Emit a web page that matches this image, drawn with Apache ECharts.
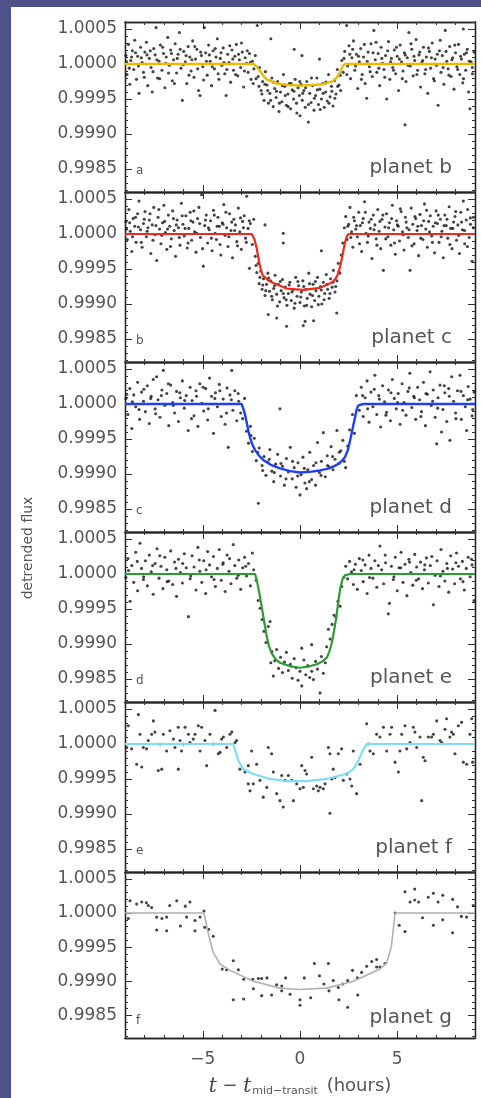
<!DOCTYPE html>
<html>
<head>
<meta charset="utf-8">
<script src="https://cdn.jsdelivr.net/npm/echarts@6/dist/echarts.min.js"></script>
<style>
html,body{margin:0;padding:0;width:481px;height:1098px;overflow:hidden;background:#50508a;}
#paper{position:absolute;left:11px;top:7px;width:470px;height:1091px;background:#fff;}
#chart{position:absolute;left:0;top:0;width:481px;height:1098px;}
</style>
</head>
<body>
<div id="paper"></div>
<div id="chart"></div>
<script>
// ---------- axis ranges and ticks ----------
const xMin = -9, xMax = 9;
const yMin = 0.99817, yMax = 1.0006;
const xMajorTicks = [-5, 0, 5];
const xMinorTicks = [-9,-8,-7,-6,-5,-4,-3,-2,-1,0,1,2,3,4,5,6,7,8,9];
const yMajorTicks = [0.9985, 0.9990, 0.9995, 1.0000, 1.0005];
const yMinorTicks = [0.9982,0.9983,0.9984,0.9985,0.9986,0.9987,0.9988,0.9989,0.9990,0.9991,0.9992,0.9993,0.9994,0.9995,0.9996,0.9997,0.9998,0.9999,1.0000,1.0001,1.0002,1.0003,1.0004,1.0005,1.0006];

const planetNames = ['planet b','planet c','planet d','planet e','planet f','planet g'];
const panelLetters = ['a','b','c','d','e','f'];
const yAxisTitle = 'detrended flux';

// ---------- data: [hours from mid-transit, detrended flux] ----------
const pointsPlanetB = [[-8.95,1.00012],[-8.9,0.99985],[-8.82,1.00028],[-8.75,0.99971],[-8.7,1.00005],[-8.62,1.00019],[-8.55,0.99992],[-8.5,1.00034],[-8.41,0.99978],[-8.35,1.00011],[-8.28,0.99958],[-8.2,1.00024],[-8.12,1.00002],[-8.05,0.99988],[-7.98,1.00017],[-7.9,1.00031],[-7.83,0.99969],[-7.75,1.00008],[-7.66,0.99995],[-7.6,0.9996],[-7.52,1.00022],[-7.45,1.00013],[-7.4,1.00052],[-7.33,0.9998],[-7.25,1.00004],[-7.18,1.00027],[-7.1,0.99991],[-7.02,1.00015],[-6.95,0.99966],[-6.88,1.0001],[-6.8,1.00038],[-6.72,0.99998],[-6.65,1.0002],[-6.57,0.99976],[-6.5,1.00006],[-6.42,1.00029],[-6.35,0.99987],[-6.27,1.00014],[-6.2,1.00045],[-6.12,0.99994],[-6.05,0.99948],[-5.98,1.00018],[-5.9,1.00003],[-5.82,0.99972],[-5.75,1.00025],[-5.67,1.0001],[-5.6,0.9999],[-5.52,1.00033],[-5.45,0.99981],[-5.37,1.00007],[-5.3,1.00021],[-5.22,0.99962],[-5.14,0.99955],[-5.07,1.00012],[-5.0,0.99996],[-4.92,1.00052],[-4.85,1.00016],[-4.77,0.99984],[-4.7,1.00027],[-4.62,1.00004],[-4.55,0.99969],[-4.47,1.00019],[-4.4,0.99993],[-4.32,1.0001],[-4.25,1.00036],[-4.17,0.99978],[-4.1,1.00008],[-4.02,0.99998],[-3.95,1.00023],[-3.87,0.99986],[-3.8,0.99955],[-3.72,1.00014],[-3.65,1.00002],[-3.57,0.99974],[-3.5,1.0002],[-3.42,0.99991],[-3.35,1.00011],[-3.27,1.00028],[-3.2,0.99983],[-3.12,1.00006],[-3.05,0.99995],[-2.97,1.00017],[-2.9,0.99967],[-2.82,1.00009],[-2.75,1.00001],[-2.67,0.99988],[-2.6,1.00015],[-2.52,0.99978],[-2.45,1.00004],[-2.37,0.99993],[-2.3,1.00012],[-2.2,1.00055],[-2.15,0.99982],[-2.08,0.99995],[-2.0,0.99962],[-1.92,0.99975],[-1.85,0.99948],[-1.78,0.99989],[-1.7,0.9997],[-1.62,0.99944],[-1.55,0.99958],[-1.5,1.00036],[-1.45,0.9998],[-1.38,0.99939],[-1.3,0.99965],[-1.23,0.99952],[-1.15,0.99975],[-1.08,0.99932],[-1.0,0.9996],[-0.93,0.99946],[-0.85,0.99985],[-0.78,0.99968],[-0.7,0.99941],[-0.62,0.99957],[-0.55,0.99972],[-0.48,0.99936],[-0.4,0.99963],[-0.33,0.9995],[-0.3,1.00021],[-0.25,0.99978],[-0.18,0.99944],[-0.1,0.99966],[-0.03,0.99955],[0.0,0.99926],[0.05,0.99971],[0.1,1.00012],[0.12,0.99948],[0.2,0.99962],[0.27,0.99938],[0.35,0.99975],[0.43,0.99917],[0.5,0.99958],[0.57,0.99945],[0.65,0.99969],[0.72,0.99934],[0.8,0.99955],[0.87,0.9998],[0.95,0.99942],[1.0,1.00007],[1.02,0.99964],[1.1,0.9995],[1.17,0.99972],[1.25,0.99938],[1.32,0.9996],[1.4,0.99947],[1.47,0.99985],[1.55,0.99953],[1.62,0.99968],[1.7,0.9994],[1.77,0.99976],[1.85,0.99957],[1.92,0.99992],[2.0,0.9997],[2.07,0.99984],[2.15,1.00005],[2.22,0.99988],[2.3,1.00018],[2.4,1.00055],[2.45,0.99997],[2.52,1.00026],[2.6,0.99979],[2.67,1.00009],[2.75,1.00033],[2.82,0.99991],[2.9,1.00014],[2.97,0.99965],[3.05,1.00003],[3.12,1.00022],[3.2,0.99985],[3.27,1.0001],[3.35,0.99972],[3.43,0.99951],[3.5,1.00017],[3.57,0.99996],[3.65,1.00029],[3.72,0.99982],[3.8,1.00048],[3.87,1.00006],[3.95,0.99988],[4.02,1.00015],[4.1,0.99969],[4.17,1.00024],[4.25,1.00001],[4.32,0.99992],[4.4,1.00012],[4.46,0.9995],[4.55,1.00032],[4.62,0.99978],[4.7,1.00008],[4.77,0.99995],[4.85,1.0002],[4.92,0.99986],[5.0,1.00011],[5.07,0.99962],[5.15,1.00027],[5.22,1.00003],[5.3,0.9999],[5.37,1.00016],[5.4,0.99913],[5.45,0.99975],[5.52,1.00009],[5.6,1.00045],[5.67,0.99997],[5.75,1.00021],[5.82,0.99983],[5.9,1.00005],[5.97,1.00035],[6.05,0.99991],[6.12,1.00013],[6.2,0.99967],[6.27,1.00002],[6.35,1.00024],[6.42,0.99986],[6.5,1.0001],[6.57,0.99958],[6.65,1.00018],[6.72,0.99994],[6.8,1.0003],[6.87,0.99979],[6.95,1.00007],[7.02,0.99998],[7.1,0.99941],[7.17,1.00019],[7.25,0.99988],[7.32,1.00012],[7.4,0.99971],[7.47,1.00048],[7.55,1.00004],[7.62,0.99993],[7.7,1.00025],[7.77,0.99982],[7.85,1.00009],[7.92,0.99964],[8.0,1.00016],[8.07,0.99996],[8.15,1.00028],[8.22,0.99985],[8.3,1.00007],[8.37,0.99973],[8.4,1.0005],[8.45,1.00014],[8.52,0.99991],[8.6,1.00021],[8.67,0.9996],[8.74,0.99936],[8.8,1.00003],[8.87,0.99986],[8.95,1.00017],
[-8.92,1.00003],[-8.78,0.99994],[-8.66,1.0001],[-8.46,1.00016],[-8.31,0.99997],[-8.16,1.00009],[-8.01,0.99981],[-7.87,1.00013],[-7.7,1.00019],[-7.56,0.99989],[-7.36,1.00006],[-7.22,0.99979],[-7.06,1.00024],[-6.91,1.00001],[-6.76,0.99987],[-6.61,1.00015],[-6.46,0.99972],[-6.31,1.00008],[-6.16,1.00021],[-6.01,0.99999],[-5.86,1.00012],[-5.71,0.99984],[-5.56,1.00006],[-5.41,1.00025],[-5.26,0.99993],[-5.11,1.00017],[-4.96,0.99977],[-4.81,1.00004],[-4.66,1.00013],[-4.51,0.99996],[-4.36,1.00022],[-4.21,0.99986],[-4.06,1.00016],[-3.91,1.00002],[-3.76,0.99992],[-3.61,1.00026],[-3.46,1.00007],[-3.31,0.99985],[-3.16,1.00014],[-3.01,1.0003],[-2.86,0.9999],[-2.71,1.00019],[-2.56,1.00002],[-2.41,0.99972],[-2.26,0.99979],[-2.11,0.99968],[-1.96,0.99957],[-1.81,0.99971],[-1.66,0.99962],[-1.51,0.99948],[-1.36,0.99974],[-1.21,0.99961],[-1.06,0.99944],[-0.91,0.99969],[-0.76,0.99955],[-0.61,0.99939],[-0.46,0.99972],[-0.31,0.99961],[-0.16,0.9993],[-0.01,0.99975],[0.14,0.99958],[0.29,0.99966],[0.44,0.99942],[0.59,0.9998],[0.74,0.99951],[0.89,0.99963],[1.04,0.99935],[1.19,0.99958],[1.34,0.99974],[1.49,0.99944],[1.64,0.99961],[1.79,0.99951],[1.94,0.99968],[2.09,0.99962],[2.26,1.00008],[2.41,0.99985],[2.56,1.00014],[2.71,1.00021],[2.86,0.99997],[3.01,1.00011],[3.16,0.99978],[3.31,1.00028],[3.46,1.00004],[3.61,0.99989],[3.76,1.00016],[3.91,1.00031],[4.06,0.99994],[4.21,1.00008],[4.36,0.99981],[4.51,1.00019],[4.66,1.00003],[4.81,0.99991],[4.96,1.00024],[5.11,1.00007],[5.26,0.99979],[5.41,1.00013],[5.56,0.99998],[5.71,1.00029],[5.86,1.00011],[6.01,0.99985],[6.16,1.00017],[6.31,1.00005],[6.46,0.99992],[6.61,1.00023],[6.76,1.00009],[6.91,0.99976],[7.06,1.00014],[7.21,1.00034],[7.36,0.99995],[7.51,1.00018],[7.66,0.99984],[7.81,1.00006],[7.96,1.00027],[8.11,0.99992],[8.26,1.00011],[8.41,0.99979],[8.56,1.00016],[8.71,1.00004],[8.86,0.99995]];
const modelPlanetB = [[-9,1],[-2.4,1],[-2.25,0.99997],[-2.06,0.9999],[-1.85,0.99982],[-1.71,0.99978],[-1.2,0.99972],[-0.6,0.9997],[0,0.99969],[0.6,0.9997],[1.2,0.99971],[1.71,0.99976],[1.9,0.99981],[2.06,0.99988],[2.2,0.99997],[2.31,1],[9,1]];

const pointsPlanetC = [[-8.95,1.00018],[-8.88,0.99992],[-8.8,1.00035],[-8.73,1.00004],[-8.65,0.99975],[-8.58,1.00022],[-8.5,1.00011],[-8.43,0.99988],[-8.35,1.00029],[-8.28,1.00047],[-8.2,1.00006],[-8.12,0.99981],[-8.05,1.00015],[-7.97,1.00032],[-7.9,0.99996],[-7.82,1.00009],[-7.75,1.0002],[-7.67,0.99972],[-7.6,1.00013],[-7.52,1.00038],[-7.45,0.99999],[-7.37,0.99962],[-7.3,1.00024],[-7.22,1.00007],[-7.15,0.99986],[-7.07,1.00016],[-7.0,1.00041],[-6.92,1.00002],[-6.85,0.99978],[-6.77,1.00027],[-6.7,1.00011],[-6.62,0.99993],[-6.55,1.00033],[-6.47,1.00005],[-6.4,0.99968],[-6.32,1.0002],[-6.25,1.00009],[-6.17,0.99984],[-6.1,1.00044],[-6.02,1.00014],[-5.95,0.99997],[-5.87,1.00026],[-5.8,0.9998],[-5.72,1.00008],[-5.65,1.00031],[-5.57,0.99991],[-5.5,1.00017],[-5.42,1.00003],[-5.35,0.99974],[-5.27,1.00022],[-5.2,1.00038],[-5.12,0.99995],[-5.06,1.00056],[-4.97,0.99954],[-4.9,1.00012],[-4.82,1.00027],[-4.75,0.99987],[-4.67,1.00006],[-4.6,1.00019],[-4.52,0.99976],[-4.45,1.00034],[-4.37,1.00001],[-4.3,0.99992],[-4.22,1.00024],[-4.15,1.00011],[-4.07,0.9997],[-4.0,1.00016],[-3.92,1.00042],[-3.85,0.99998],[-3.77,1.00009],[-3.7,0.99982],[-3.62,1.00029],[-3.55,1.00005],[-3.47,0.99966],[-3.4,1.00021],[-3.32,1.00013],[-3.25,0.99989],[-3.17,1.00037],[-3.1,1.00003],[-3.02,0.99978],[-2.95,1.00018],[-2.87,1.00026],[-2.8,0.99994],[-2.74,1.00054],[-2.67,1.00008],[-2.6,0.99951],[-2.55,1.00015],[-2.45,0.99985],[-2.38,1.00021],[-2.3,0.99968],[-2.22,0.99945],[-2.15,0.99958],[-2.1,0.99929],[-2.02,0.99947],[-1.95,0.99921],[-1.88,0.99936],[-1.8,1.00013],[-1.8,0.99912],[-1.72,0.99928],[-1.65,0.99944],[-1.63,0.99885],[-1.57,0.99918],[-1.5,0.99933],[-1.42,0.99906],[-1.35,0.99922],[-1.28,0.99941],[-1.2,0.9988],[-1.2,0.99914],[-1.12,0.99928],[-1.05,0.99903],[-0.97,0.99919],[-0.9,0.99935],[-0.86,1.00001],[-0.86,0.99987],[-0.82,0.99909],[-0.75,0.99924],[-0.69,0.99868],[-0.67,0.99898],[-0.6,0.99915],[-0.52,0.99931],[-0.45,0.99905],[-0.37,0.9992],[-0.3,0.99894],[-0.22,0.99938],[-0.15,0.99911],[-0.07,0.99926],[0.0,0.99902],[0.07,0.99917],[0.15,0.99933],[0.17,0.99869],[0.22,0.99897],[0.26,0.99875],[0.3,0.99921],[0.37,0.99908],[0.45,0.99944],[0.52,0.99914],[0.6,0.99896],[0.67,0.99928],[0.7,0.99876],[0.75,0.99905],[0.82,0.99919],[0.9,0.99938],[0.97,0.99911],[1.05,0.99925],[1.1,0.99976],[1.12,0.999],[1.2,0.99931],[1.27,0.99915],[1.35,0.99942],[1.42,0.99921],[1.5,0.99908],[1.57,0.99936],[1.65,0.99924],[1.72,0.99948],[1.8,0.99917],[1.89,0.99887],[1.9,0.99933],[1.97,0.99958],[2.05,0.99944],[2.12,0.9997],[2.2,0.99987],[2.28,1.00009],[2.35,1.00025],[2.42,0.99992],[2.5,1.00014],[2.57,1.00038],[2.65,1.00003],[2.72,0.99981],[2.8,1.00019],[2.87,1.00007],[2.95,0.99996],[3.02,1.00031],[3.1,1.00012],[3.17,0.99975],[3.25,1.00022],[3.32,1.00046],[3.4,1.00001],[3.47,0.99988],[3.55,1.00017],[3.62,1.00008],[3.7,0.99965],[3.77,1.00027],[3.85,1.00013],[3.92,0.99993],[4.0,1.00035],[4.07,1.00004],[4.15,0.99979],[4.22,1.00021],[4.29,0.99948],[4.37,1.0001],[4.45,1.00029],[4.52,0.99996],[4.6,1.00016],[4.67,0.99984],[4.75,1.00041],[4.82,1.00006],[4.9,0.99971],[4.97,1.00019],[5.05,1.00011],[5.12,0.9999],[5.2,1.00032],[5.27,1.00003],[5.35,0.99977],[5.42,1.00024],[5.5,1.00009],[5.57,0.99995],[5.66,0.99948],[5.72,1.00037],[5.8,1.00014],[5.87,0.99986],[5.95,1.00022],[6.02,1.00005],[6.1,0.99969],[6.17,1.00028],[6.25,1.00012],[6.32,0.99992],[6.4,1.00043],[6.47,1.00007],[6.55,0.99981],[6.62,1.00018],[6.7,1.00026],[6.77,0.99997],[6.85,1.00011],[6.92,0.99973],[7.0,1.00033],[7.07,1.00015],[7.15,0.99988],[7.22,1.00021],[7.3,1.00004],[7.37,0.99966],[7.45,1.00027],[7.52,1.00012],[7.6,0.99994],[7.67,1.00039],[7.75,1.00008],[7.82,0.99979],[7.9,1.00017],[7.97,1.00025],[8.05,0.99991],[8.12,1.00013],[8.2,0.99972],[8.27,1.00031],[8.35,1.00006],[8.4,1.00047],[8.47,0.99986],[8.55,1.0002],[8.62,1.00035],[8.7,0.99995],[8.77,1.00014],[8.85,0.99961],[8.92,1.00024],
[-8.92,1.00007],[-8.76,1.00016],[-8.61,0.99996],[-8.46,1.00024],[-8.31,1.0001],[-8.16,0.99988],[-8.01,1.00021],[-7.86,1.00004],[-7.71,1.00029],[-7.56,0.99991],[-7.41,1.00012],[-7.26,1.00035],[-7.11,0.99998],[-6.96,1.00018],[-6.81,1.00007],[-6.66,0.99982],[-6.51,1.00022],[-6.36,1.00013],[-6.21,0.99995],[-6.06,1.00026],[-5.91,1.00008],[-5.76,0.99987],[-5.61,1.00019],[-5.46,1.00033],[-5.31,1.00001],[-5.16,1.00015],[-5.01,0.99979],[-4.86,1.0002],[-4.71,1.00009],[-4.56,0.99994],[-4.41,1.00027],[-4.26,1.00011],[-4.11,0.99985],[-3.96,1.00014],[-3.81,1.00031],[-3.66,0.99996],[-3.51,1.00017],[-3.36,1.00005],[-3.21,0.99983],[-3.06,1.00023],[-2.91,1.00009],[-2.76,0.99988],[-2.61,1.00019],[-2.26,0.99955],[-2.06,0.99938],[-1.91,0.99927],[-1.76,0.99919],[-1.61,0.99937],[-1.46,0.99911],[-1.31,0.99926],[-1.16,0.99897],[-1.01,0.99932],[-0.86,0.99915],[-0.71,0.99906],[-0.56,0.99927],[-0.41,0.99917],[-0.26,0.99901],[-0.11,0.99932],[0.04,0.9991],[0.19,0.99925],[0.34,0.99898],[0.49,0.99929],[0.64,0.99912],[0.79,0.99932],[0.94,0.99899],[1.09,0.9992],[1.24,0.99906],[1.39,0.99928],[1.54,0.99915],[1.69,0.99931],[1.84,0.99925],[2.0,0.99946],[2.46,1.00011],[2.61,0.99995],[2.76,1.00024],[2.91,1.00012],[3.06,0.99986],[3.21,1.00016],[3.36,1.00031],[3.51,0.99997],[3.66,1.00021],[3.81,1.00006],[3.96,0.99984],[4.11,1.00018],[4.26,1.00027],[4.41,0.99993],[4.56,1.00009],[4.71,1.00022],[4.86,0.99987],[5.01,1.00013],[5.16,1.00036],[5.31,0.99999],[5.46,1.00017],[5.61,1.00006],[5.76,0.99983],[5.91,1.00025],[6.06,1.00011],[6.21,0.99994],[6.36,1.00019],[6.51,1.00034],[6.66,1.00003],[6.81,0.99988],[6.96,1.00016],[7.11,1.00027],[7.26,0.99996],[7.41,1.00012],[7.56,1.00021],[7.71,0.99985],[7.86,1.00008],[8.01,1.00032],[8.16,0.99998],[8.31,1.00017],[8.46,1.00005],[8.61,0.99982],[8.76,1.00023],[8.91,1.00009]];
const modelPlanetC = [[-9,1],[-2.49,1],[-2.35,0.99993],[-2.23,0.9998],[-2.14,0.99966],[-2.06,0.99954],[-1.95,0.99943],[-1.89,0.9994],[-1.6,0.99933],[-1.37,0.9993],[-0.69,0.99922],[0.17,0.9992],[1.03,0.99923],[1.45,0.99928],[1.71,0.99932],[1.85,0.99937],[1.97,0.99944],[2.06,0.99953],[2.14,0.99963],[2.23,0.99976],[2.31,0.99987],[2.4,0.99996],[2.49,1],[9,1]];

const pointsPlanetD = [[-8.95,1.00008],[-8.85,0.99985],[-8.75,1.00022],[-8.65,0.99965],[-8.55,1.00013],[-8.45,0.99996],[-8.35,1.00031],[-8.25,0.99978],[-8.15,1.00017],[-8.05,1.00004],[-7.95,0.99989],[-7.85,1.00026],[-7.75,0.99972],[-7.65,1.00011],[-7.55,1.00035],[-7.45,0.99993],[-7.37,1.00039],[-7.3,1.00006],[-7.2,0.99981],[-7.1,1.0002],[-7.03,1.00048],[-6.95,0.99998],[-6.85,1.00015],[-6.75,0.99969],[-6.65,1.00027],[-6.55,1.00002],[-6.45,0.99987],[-6.35,1.00018],[-6.25,0.99975],[-6.15,1.00009],[-6.05,1.00033],[-5.95,0.99994],[-5.85,1.00012],[-5.75,0.99962],[-5.65,1.00024],[-5.55,1.00005],[-5.45,0.99983],[-5.35,1.00019],[-5.25,0.99968],[-5.15,1.00029],[-5.05,1.00001],[-4.95,0.9999],[-4.85,1.00022],[-4.75,0.99977],[-4.65,1.00037],[-4.55,1.00011],[-4.45,0.99958],[-4.35,1.00016],[-4.25,0.99996],[-4.15,1.00028],[-4.05,0.99982],[-3.95,1.00007],[-3.85,0.99971],[-3.75,1.00023],[-3.69,0.99938],[-3.6,1.00013],[-3.51,1.00048],[-3.45,0.99991],[-3.35,1.00019],[-3.25,0.99976],[-3.15,1.00004],[-3.05,0.99987],[-2.95,0.99979],[-2.85,1.00008],[-2.75,0.99961],[-2.65,0.99944],[-2.55,0.99968],[-2.45,0.99932],[-2.35,0.99951],[-2.25,0.99919],[-2.14,0.99858],[-2.1,0.99937],[-1.95,0.99912],[-1.85,0.99925],[-1.75,0.99898],[-1.65,0.99917],[-1.55,0.99935],[-1.45,0.99904],[-1.35,0.99889],[-1.25,0.99914],[-1.15,0.99928],[-1.03,0.99993],[-1.0,0.99897],[-0.9,0.99911],[-0.8,0.99884],[-0.7,0.99922],[-0.6,0.99903],[-0.5,0.99938],[-0.4,0.99893],[-0.3,0.99909],[-0.2,0.99881],[-0.1,0.99916],[0.0,0.9987],[0.05,0.99899],[0.15,0.99924],[0.25,0.99887],[0.34,0.99879],[0.4,0.99906],[0.5,0.99931],[0.6,0.99892],[0.7,0.99912],[0.8,0.99884],[0.9,0.99945],[1.0,0.99902],[1.1,0.99918],[1.2,0.99959],[1.3,0.99896],[1.4,0.99926],[1.5,0.9991],[1.6,0.99939],[1.7,0.99906],[1.8,0.99921],[1.9,0.99962],[2.0,0.99915],[2.1,0.99933],[2.2,0.99948],[2.35,0.99909],[2.45,0.9994],[2.55,0.99963],[2.7,0.99985],[2.8,0.99958],[2.9,1.00012],[3.05,0.99991],[3.15,1.00024],[3.25,0.99982],[3.35,1.00009],[3.45,1.00033],[3.55,0.99974],[3.65,1.00017],[3.75,0.99996],[3.85,1.00041],[3.95,0.99985],[4.05,1.00012],[4.15,0.99967],[4.25,1.00026],[4.35,1.00003],[4.45,0.99988],[4.55,1.0002],[4.65,0.99976],[4.75,1.00035],[4.85,1.00008],[4.95,0.99993],[5.05,1.00015],[5.15,0.99971],[5.25,1.00029],[5.35,1.00002],[5.45,0.99984],[5.55,1.00018],[5.65,1.00044],[5.75,0.99995],[5.85,1.00011],[5.95,0.99978],[6.05,1.00024],[6.15,1.00006],[6.25,0.99989],[6.35,1.00031],[6.45,0.99969],[6.55,1.00014],[6.69,1.00046],[6.75,0.99998],[6.85,1.0002],[6.95,0.99981],[7.03,0.99943],[7.1,1.00009],[7.2,1.00027],[7.28,0.9996],[7.35,0.99992],[7.45,1.00016],[7.55,0.99975],[7.65,1.00022],[7.71,0.99948],[7.8,1.00039],[7.9,1.00004],[8.0,0.99987],[8.1,1.00019],[8.23,1.00041],[8.3,0.99978],[8.4,1.00012],[8.5,0.99996],[8.57,0.99962],[8.65,1.00025],[8.75,1.00007],[8.85,0.99983],[8.95,1.00017],
[-8.91,1.00014],[-8.62,1.00003],[-8.28,0.99992],[-8.03,1.00021],[-7.68,1.00008],[-7.42,0.99986],[-7.13,1.00012],[-6.77,1.00029],[-6.52,0.99998],[-6.18,1.00016],[-5.93,1.00005],[-5.58,0.99979],[-5.32,1.00011],[-4.98,1.00024],[-4.72,0.99993],[-4.38,1.00008],[-4.12,1.00019],[-3.78,0.99987],[-3.53,1.00006],[-3.18,1.00015],[-2.52,0.99955],[-2.18,0.99931],[-1.92,0.99905],[-1.58,0.99921],[-1.32,0.99902],[-0.98,0.99915],[-0.72,0.99893],[-0.38,0.99918],[-0.12,0.99897],[0.22,0.99908],[0.48,0.99889],[0.82,0.99916],[1.08,0.99898],[1.42,0.99912],[1.68,0.99925],[2.02,0.99931],[2.28,0.99918],[3.22,1.00012],[3.48,0.99993],[3.82,1.00021],[4.08,1.00007],[4.42,0.99984],[4.68,1.00016],[5.02,1.00002],[5.28,0.99991],[5.62,1.00023],[5.88,1.00009],[6.22,0.99982],[6.48,1.00015],[6.82,1.00004],[7.08,0.99994],[7.42,1.00026],[7.68,1.00011],[8.02,0.99979],[8.28,1.00018],[8.62,1.00006],[8.88,0.99992]];
const modelPlanetD = [[-9,1],[-3.0,1],[-2.9,0.99992],[-2.82,0.99984],[-2.74,0.99973],[-2.65,0.99961],[-2.57,0.99952],[-2.45,0.99942],[-2.31,0.99934],[-2.1,0.99926],[-1.89,0.9992],[-1.5,0.99913],[-1.03,0.99908],[-0.5,0.99904],[0,0.99902],[0.5,0.99903],[1.03,0.99905],[1.5,0.99908],[1.89,0.99913],[2.1,0.99917],[2.31,0.99924],[2.45,0.99933],[2.57,0.99947],[2.7,0.99964],[2.83,0.99981],[2.92,0.99993],[3.0,0.99998],[3.26,1],[9,1]];

const pointsPlanetE = [[-8.95,0.99995],[-8.85,1.00022],[-8.74,0.99961],[-8.65,1.00012],[-8.55,0.99988],[-8.45,1.00031],[-8.35,0.99976],[-8.23,1.00044],[-8.15,1.00008],[-8.05,0.99992],[-7.95,1.00019],[-7.85,0.99983],[-7.75,1.00027],[-7.65,1.00003],[-7.55,0.99971],[-7.45,1.00015],[-7.35,1.00036],[-7.25,0.99994],[-7.15,1.00011],[-7.05,0.99979],[-6.95,1.00024],[-6.85,1.00006],[-6.75,0.9999],[-6.65,1.00033],[-6.55,0.99985],[-6.45,1.00017],[-6.35,0.99968],[-6.25,1.00021],[-6.15,1.00002],[-6.05,0.99987],[-5.95,1.00029],[-5.85,1.00009],[-5.74,0.99939],[-5.65,0.99993],[-5.55,1.00026],[-5.45,1.0001],[-5.35,0.99977],[-5.25,1.00038],[-5.15,1.00004],[-5.05,0.99988],[-4.95,1.00019],[-4.85,0.99972],[-4.75,1.00032],[-4.65,1.00013],[-4.55,0.99996],[-4.45,1.00025],[-4.35,0.99982],[-4.25,1.00008],[-4.15,1.00035],[-4.05,0.99991],[-3.95,1.00016],[-3.85,0.99975],[-3.75,1.00027],[-3.65,1.00004],[-3.55,0.99986],[-3.43,1.00042],[-3.35,1.00012],[-3.25,0.99994],[-3.15,1.0002],[-3.05,0.99978],[-2.95,1.00009],[-2.85,1.00024],[-2.75,0.99997],[-2.65,1.00015],[-2.55,0.99983],[-2.45,1.0003],[-2.38,1.00006],[-2.25,0.99991],[-2.15,0.99962],[-2.05,0.99951],[-1.95,0.99935],[-1.85,0.99918],[-1.75,0.99902],[-1.63,0.99925],[-1.54,0.99932],[-1.5,0.99873],[-1.45,0.99889],[-1.37,0.99854],[-1.3,0.99876],[-1.2,0.99892],[-1.1,0.99865],[-1.0,0.99881],[-0.9,0.99859],[-0.8,0.99874],[-0.7,0.99888],[-0.6,0.99862],[-0.5,0.99871],[-0.4,0.99851],[-0.3,0.99879],[-0.2,0.99866],[-0.1,0.99848],[0.0,0.99861],[0.09,0.99894],[0.09,0.9984],[0.2,0.99877],[0.3,0.99856],[0.4,0.99869],[0.5,0.99852],[0.6,0.99899],[0.6,0.99861],[0.69,0.99849],[0.8,0.99875],[0.9,0.99864],[1.03,0.9983],[1.1,0.99882],[1.2,0.99858],[1.3,0.99873],[1.37,0.99896],[1.46,0.99921],[1.55,0.99907],[1.65,0.99928],[1.75,0.99941],[1.85,0.99938],[1.95,0.99961],[2.06,0.99954],[2.15,0.99982],[2.25,0.99995],[2.35,1.00011],[2.45,0.99993],[2.55,1.00018],[2.65,1.00003],[2.75,0.99985],[2.85,1.00014],[2.95,0.99978],[3.05,1.00022],[3.15,1.00005],[3.25,0.99989],[3.35,1.00013],[3.45,0.99972],[3.55,1.00027],[3.65,1.00008],[3.75,0.99994],[3.85,1.00019],[3.95,0.99981],[4.11,1.0004],[4.2,1.00006],[4.3,0.99986],[4.4,1.00016],[4.54,0.99943],[4.6,0.99958],[4.7,1.00011],[4.8,0.99992],[4.9,1.00024],[5.0,0.99976],[5.1,1.00009],[5.2,1.00031],[5.3,0.99988],[5.4,1.00014],[5.5,0.99969],[5.6,1.00021],[5.7,1.00002],[5.8,0.99984],[5.9,1.00028],[6.0,1.0001],[6.1,0.99993],[6.2,1.00017],[6.3,0.99979],[6.4,1.00006],[6.5,1.00023],[6.6,0.99987],[6.7,1.00012],[6.86,0.99956],[6.95,0.99998],[7.05,1.00019],[7.15,0.99982],[7.25,1.00035],[7.35,1.00004],[7.45,0.9999],[7.55,1.00015],[7.65,0.99974],[7.75,1.00026],[7.85,1.00007],[7.95,0.99986],[8.05,1.0003],[8.15,1.00011],[8.25,0.99993],[8.35,1.00018],[8.45,0.99977],[8.55,1.00008],[8.65,1.00024],[8.75,0.99996],[8.85,1.00013],[8.95,0.99962],
[-8.82,1.00005],[-8.37,1.00018],[-8.04,0.99996],[-7.58,1.00012],[-7.21,1.00026],[-6.83,0.99989],[-6.38,1.00008],[-6.03,1.00015],[-5.62,0.99997],[-5.18,1.0002],[-4.83,1.00006],[-4.42,0.99992],[-3.97,1.00014],[-3.62,1.00022],[-3.18,0.99998],[-2.79,1.00011],[2.78,1.00006],[3.23,1.0002],[3.58,0.99995],[4.03,1.00012],[4.38,1.00027],[4.83,0.99996],[5.18,1.00009],[5.63,1.00017],[5.98,0.99991],[6.42,1.00013],[6.78,1.00025],[7.22,0.99997],[7.58,1.00008],[8.02,1.00016],[8.38,0.99989],[8.82,1.00021]];
const modelPlanetE = [[-9,1],[-2.31,1],[-2.2,0.99988],[-2.06,0.99968],[-1.97,0.99953],[-1.89,0.9994],[-1.8,0.99925],[-1.71,0.99911],[-1.6,0.99897],[-1.46,0.99887],[-1.25,0.99878],[-1.03,0.99873],[-0.5,0.99868],[0,0.99866],[0.5,0.99868],[0.86,0.99871],[1.15,0.99875],[1.37,0.9988],[1.5,0.99888],[1.63,0.99901],[1.74,0.99917],[1.85,0.99935],[1.95,0.99956],[2.06,0.99978],[2.18,0.99992],[2.31,0.99998],[2.57,1],[9,1]];

const pointsPlanetF = [[-8.91,0.99995],[-8.83,1.00026],[-8.66,0.99993],[-8.4,0.99971],[-8.31,1.00042],[-8.23,1.00014],[-8.14,0.99967],[-8.06,0.99995],[-7.89,0.99993],[-7.8,1.00005],[-7.63,1.00014],[-7.54,1.00033],[-7.46,1.00017],[-7.29,0.99962],[-7.2,1.0],[-7.11,0.99964],[-7.03,1.00014],[-6.86,0.9999],[-6.69,1.00019],[-6.51,1.00007],[-6.43,0.99995],[-6.26,1.00024],[-6.26,0.99964],[-6.17,1.00005],[-6.09,0.9999],[-6.0,1.0],[-5.91,1.00024],[-5.74,1.00014],[-5.66,1.00002],[-5.49,1.00007],[-5.4,1.00014],[-5.23,1.00026],[-5.14,0.9999],[-5.06,1.00024],[-4.89,1.00005],[-4.8,0.99969],[-4.63,1.00014],[-4.46,1.0],[-4.37,1.00048],[-4.2,0.99986],[-4.11,0.99988],[-4.03,1.00007],[-3.94,1.0001],[-3.77,0.99995],[-3.6,1.00014],[-3.51,1.00017],[-3.34,1.00002],[-3.26,1.00005],[-3.09,0.99964],[-2.83,0.9996],[-2.66,0.99969],[-2.49,0.9999],[-2.66,0.99943],[-2.57,0.99933],[-2.4,0.99943],[-2.23,0.99971],[-2.06,0.99948],[-1.89,0.99924],[-1.71,0.99938],[-1.63,0.99995],[-1.46,0.99986],[-1.37,0.9996],[-1.2,0.99929],[-1.03,0.99919],[-0.86,0.9991],[-0.94,0.99955],[-0.77,0.99948],[-0.6,0.99955],[-0.43,0.99948],[-0.34,0.99919],[-0.17,0.99943],[0.0,0.99936],[0.09,0.99969],[0.17,0.99938],[0.26,0.99962],[0.34,0.99957],[0.6,0.99981],[0.69,0.99936],[0.86,0.9994],[0.94,0.99933],[1.03,0.99938],[1.2,0.99936],[1.29,0.99943],[1.46,0.99995],[1.54,0.99901],[1.54,0.99986],[1.63,0.9995],[1.71,0.99964],[1.8,0.99952],[1.97,0.99986],[2.14,0.99993],[2.23,0.99948],[2.4,0.99957],[2.57,0.9995],[2.66,0.9994],[2.91,0.99929],[2.74,0.9999],[3.09,0.99971],[3.43,1.00029],[3.51,1.0],[3.6,0.9999],[3.77,0.99986],[3.94,1.00014],[4.11,1.0001],[4.29,1.00024],[4.46,0.9999],[4.63,1.00014],[4.71,1.00024],[4.89,0.99974],[5.06,0.9996],[5.14,0.9999],[5.23,1.00014],[5.4,1.00026],[5.49,0.99993],[5.66,1.00002],[5.83,1.00024],[5.91,1.00017],[6.0,0.99995],[6.17,1.0001],[6.26,0.99919],[6.34,0.99981],[6.43,0.99976],[6.6,1.0001],[6.77,1.0001],[6.86,1.00014],[7.03,1.00033],[7.2,1.00005],[7.29,1.00002],[7.46,1.00021],[7.54,1.00036],[7.71,1.0001],[7.8,1.00017],[7.89,1.00014],[7.97,0.99986],[8.14,1.00026],[8.31,1.00031],[8.4,0.99974],[8.57,0.99971],[8.74,1.00014],[8.83,1.00036],[8.88,0.99974]];
const modelPlanetF = [[-9,1],[-3.43,1],[-3.3,0.99988],[-3.17,0.99976],[-3.03,0.99969],[-2.9,0.99964],[-2.4,0.99957],[-1.54,0.9995],[-0.69,0.99947],[0.34,0.99947],[1.37,0.9995],[2.23,0.99956],[2.5,0.99959],[2.74,0.99964],[2.88,0.9997],[3.0,0.99976],[3.2,0.99989],[3.43,1],[9,1]];

const pointsPlanetG = [[-8.74,1.00018],[-8.4,1.00013],[-8.14,1.00016],[-7.9,1.00015],[-7.8,1.00011],[-7.63,1.00008],[-8.83,0.99992],[-7.37,0.99994],[-7.1,0.99992],[-6.86,0.99994],[-7.37,0.99975],[-6.86,0.99974],[-6.7,1.00011],[-6.34,1.00018],[-6.15,0.99981],[-5.9,1.0001],[-5.83,0.99994],[-5.66,1.00016],[-5.4,0.99989],[-5.4,0.99974],[-5.14,0.99994],[-4.94,1.00003],[-4.9,0.99979],[-4.7,0.99976],[-4.46,0.99966],[-4.0,0.99918],[-3.77,0.99917],[-3.43,0.9993],[-3.17,0.99917],[-3.43,0.99873],[-2.9,0.99874],[-2.9,0.99903],[-2.43,0.99903],[-2.4,0.99889],[-2.14,0.99904],[-1.97,0.99904],[-1.97,0.99879],[-1.7,0.99905],[-1.46,0.9988],[-1.2,0.99895],[-0.94,0.99893],[-0.94,0.99886],[-0.74,0.99905],[-0.51,0.99881],[0.0,0.99873],[0.0,0.99865],[0.22,0.99905],[0.55,0.99876],[0.74,0.99926],[1.0,0.99908],[1.23,0.99896],[1.46,0.99926],[1.49,0.99886],[1.71,0.99901],[1.97,0.99891],[2.0,0.99873],[2.2,0.99896],[2.45,0.99862],[2.45,0.99901],[2.7,0.99916],[2.95,0.99905],[2.97,0.9988],[3.17,0.99913],[3.43,0.99922],[3.69,0.99929],[3.94,0.99932],[3.94,0.99921],[4.11,0.99921],[4.37,0.99926],[4.89,1.0],[5.1,0.99982],[5.4,0.99973],[5.4,1.00031],[5.66,1.00016],[5.9,1.00035],[5.9,1.00019],[6.1,1.00016],[6.3,0.99993],[6.6,1.00023],[6.86,0.99982],[6.86,1.00029],[7.1,1.00016],[7.34,1.00026],[7.34,0.9999],[7.85,1.0002],[7.85,0.99971],[8.1,1.00009],[8.3,0.99995],[8.57,0.99994],[8.91,1.00011]];
const modelPlanetG = [[-9,1],[-4.94,1],[-4.7,0.99968],[-4.46,0.99942],[-4.1,0.99925],[-3.6,0.99916],[-2.4,0.999],[-1.03,0.9989],[0,0.99888],[1.37,0.9989],[2.74,0.999],[4.11,0.99918],[4.46,0.99927],[4.7,0.99951],[4.89,1],[9,1]];

const panelPoints = [pointsPlanetB, pointsPlanetC, pointsPlanetD, pointsPlanetE, pointsPlanetF, pointsPlanetG];
const panelModels = [modelPlanetB, modelPlanetC, modelPlanetD, modelPlanetE, modelPlanetF, modelPlanetG];

// ---------- styling ----------
const modelColors = ['#e8bb00', '#ee2a1c', '#1f3ff2', '#2f9a35', '#7fdcf3', '#b0b0b0'];
const modelWidths = [2.4, 2.2, 2.4, 2.2, 2.2, 1.6];
const FONT = 'DejaVu Sans';
const TXT = '#555';

const chart = echarts.init(document.getElementById('chart'), null, {renderer: 'canvas'});
const grids = [], xAxes = [], yAxes = [], series = [], graphics = [];
const PLOT_LEFT = 125, PLOT_W = 350, PANEL_TOP = 22, PANEL_H = 170;

panelPoints.forEach((pts, k) => {
  const top = PANEL_TOP + PANEL_H * k;
  grids.push({left: PLOT_LEFT, top: top, width: PLOT_W, height: PANEL_H, show: false});
  const isLast = k === panelPoints.length - 1;
  const lineStyle = {color: '#222', width: 1.3};
  const xBase = {gridIndex: k, type: 'value', min: xMin, max: xMax,
    axisLine: {show: true, onZero: false, lineStyle}, splitLine: {show: false}, axisLabel: {show: false}};
  const xi = xAxes.length;
  xAxes.push(Object.assign({}, xBase, {position: 'bottom',
    axisTick: {show: true, inside: true, length: 3, customValues: xMinorTicks, lineStyle: {color: '#333', width: 1}},
    axisLabel: isLast ? {show: true, customValues: xMajorTicks, color: TXT, fontFamily: FONT, fontSize: 17, margin: 13,
      formatter: v => (v < 0 ? '\u2212' + Math.abs(v) : String(v))} : {show: false},
    name: isLast ? '{it|t} \u2212 {it|t}{sub|mid\u2212transit} (hours)' : '',
    nameLocation: 'middle', nameGap: 38,
    nameTextStyle: {color: TXT, fontFamily: FONT, fontSize: 18,
      rich: {it: {fontFamily: 'DejaVu Serif', fontStyle: 'italic', fontSize: 20, color: '#444'},
             sub: {fontFamily: FONT, fontSize: 11, color: '#555', padding: [10, 3, 0, 1]}}}
  }));
  xAxes.push(Object.assign({}, xBase, {position: 'bottom',
    axisTick: {show: true, inside: true, length: 7, customValues: xMajorTicks, lineStyle: {color: '#333', width: 1}}}));
  xAxes.push(Object.assign({}, xBase, {position: 'top',
    axisTick: {show: true, inside: true, length: 3, customValues: xMinorTicks, lineStyle: {color: '#333', width: 1}}}));
  xAxes.push(Object.assign({}, xBase, {position: 'top',
    axisTick: {show: true, inside: true, length: 7, customValues: xMajorTicks, lineStyle: {color: '#333', width: 1}}}));

  const yBase = {gridIndex: k, type: 'value', min: yMin, max: yMax,
    axisLine: {show: true, onZero: false, lineStyle}, splitLine: {show: false}, axisLabel: {show: false}};
  const yi = yAxes.length;
  yAxes.push(Object.assign({}, yBase, {position: 'left',
    axisTick: {show: true, inside: true, length: 3, customValues: yMinorTicks, lineStyle: {color: '#333', width: 1}},
    axisLabel: {show: true, customValues: yMajorTicks, color: TXT, fontFamily: FONT, fontSize: 17, margin: 8,
      formatter: v => v.toFixed(4)}}));
  yAxes.push(Object.assign({}, yBase, {position: 'left',
    axisTick: {show: true, inside: true, length: 7, customValues: yMajorTicks, lineStyle: {color: '#333', width: 1}}}));
  yAxes.push(Object.assign({}, yBase, {position: 'right',
    axisTick: {show: true, inside: true, length: 3, customValues: yMinorTicks, lineStyle: {color: '#333', width: 1}}}));
  yAxes.push(Object.assign({}, yBase, {position: 'right',
    axisTick: {show: true, inside: true, length: 7, customValues: yMajorTicks, lineStyle: {color: '#333', width: 1}}}));

  series.push({type: 'scatter', xAxisIndex: xi, yAxisIndex: yi, data: pts,
    symbol: 'circle', symbolSize: 3.1, itemStyle: {color: '#151515'}, silent: true, z: 2});
  series.push({type: 'line', xAxisIndex: xi, yAxisIndex: yi, data: panelModels[k],
    showSymbol: false, symbol: 'none', smooth: false,
    lineStyle: {color: modelColors[k], width: modelWidths[k]}, silent: true, z: 3});

  graphics.push({type: 'text', right: 481 - 452, top: top + 136,
    style: {text: planetNames[k], fill: TXT, font: '20px "DejaVu Sans"'}});
  graphics.push({type: 'text', left: 136, top: top + 143,
    style: {text: panelLetters[k], fill: TXT, font: '12px "DejaVu Sans"'}});
});

graphics.push({type: 'text', x: 28, y: 548, rotation: Math.PI / 2,
  style: {text: yAxisTitle, fill: TXT, font: '14px "DejaVu Sans"', align: 'center', verticalAlign: 'middle'}});

chart.setOption({
  animation: false,
  backgroundColor: 'transparent',
  grid: grids, xAxis: xAxes, yAxis: yAxes, series: series, graphic: graphics
});
</script>
</body>
</html>
